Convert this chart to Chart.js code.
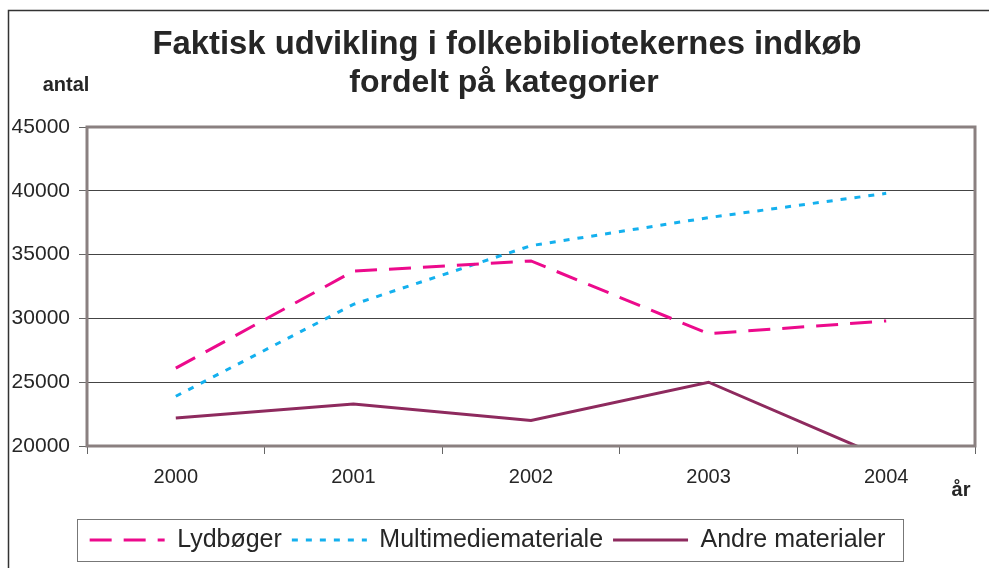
<!DOCTYPE html>
<html>
<head>
<meta charset="utf-8">
<script src="https://cdn.jsdelivr.net/npm/chart.js@4.4.1/dist/chart.umd.min.js"></script>
<style>
  html, body { margin: 0; padding: 0; background: #fff; }
  canvas { display: block; }
</style>
</head>
<body>
<canvas id="chart" width="989" height="568"></canvas>
<script>
const years = ['2000', '2001', '2002', '2003', '2004'];
const lydboger = [26100, 33700, 34500, 28800, 29800];
const multimedie = [23900, 31100, 35700, 37900, 39800];
const andre = [22200, 23300, 22000, 25000, 19000];
const titleLines = ['Faktisk udvikling i folkebibliotekernes indkøb', 'fordelt på kategorier'];

const FONT = "'Liberation Sans', Arial, sans-serif";
const TEXT = '#262626';

// frame, plot border, title, axis names and the legend box
const extras = {
  id: 'extras',
  beforeDraw(chart) {
    const c = chart.ctx;
    c.save();
    c.fillStyle = '#fff';
    c.fillRect(0, 0, chart.width, chart.height);
    c.strokeStyle = '#333';
    c.lineWidth = 1.5;
    c.beginPath();
    c.moveTo(8.5, chart.height);
    c.lineTo(8.5, 10.5);
    c.lineTo(chart.width, 10.5);
    c.stroke();
    c.restore();
  },
  afterDatasetsDraw(chart) {
    const c = chart.ctx;
    const a = chart.chartArea;
    c.save();
    c.strokeStyle = '#8a8080';
    c.lineWidth = 3;
    c.strokeRect(a.left, a.top, a.right - a.left, a.bottom - a.top);
    c.restore();
  },
  afterDraw(chart) {
    const c = chart.ctx;
    c.save();
    c.fillStyle = TEXT;
    c.textAlign = 'center';
    c.textBaseline = 'middle';
    c.font = 'bold 32.8px ' + FONT;
    c.fillText(titleLines[0], 507, 45);
    c.font = 'bold 32px ' + FONT;
    c.fillText(titleLines[1], 504, 83);
    c.font = 'bold 20px ' + FONT;
    c.fillText('antal', 66, 85);
    c.fillText('år', 961, 490);

    const boxes = chart.legend.legendHitBoxes;
    if (boxes && boxes.length) {
      const first = boxes[0];
      const last = boxes[boxes.length - 1];
      c.strokeStyle = '#777';
      c.lineWidth = 1;
      c.strokeRect(Math.round(first.left - 13) + 0.5, Math.round(first.top - 9) + 0.5,
        Math.round(last.left + last.width - first.left + 30), Math.round(first.height + 17));
    }
    c.restore();
  }
};

const ctx = document.getElementById('chart').getContext('2d');
const baseLabels = Chart.defaults.plugins.legend.labels.generateLabels;

new Chart(ctx, {
  type: 'line',
  data: {
    labels: years,
    datasets: [{
      label: 'Lydbøger',
      data: lydboger,
      borderColor: '#ec0a8c',
      backgroundColor: '#ec0a8c',
      borderWidth: 3,
      borderDash: [22, 12],
      pointRadius: 0,
      pointStyle: 'line',
      tension: 0
    }, {
      label: 'Multimediemateriale',
      data: multimedie,
      borderColor: '#14b0ee',
      backgroundColor: '#14b0ee',
      borderWidth: 3,
      borderDash: [6, 8],
      pointRadius: 0,
      pointStyle: 'line',
      tension: 0
    }, {
      label: 'Andre materialer',
      data: andre,
      borderColor: '#8e2a5e',
      backgroundColor: '#8e2a5e',
      borderWidth: 3,
      pointRadius: 0,
      pointStyle: 'line',
      tension: 0
    }]
  },
  options: {
    responsive: false,
    animation: false,
    layout: { padding: { top: 127, left: 0, right: 14, bottom: 5.5 } },
    plugins: {
      title: { display: false },
      tooltip: { enabled: false },
      legend: {
        position: 'bottom',
        labels: {
          usePointStyle: true,
          pointStyleWidth: 75,
          padding: 10,
          color: TEXT,
          font: { family: FONT, size: 25 },
          generateLabels: chart => baseLabels(chart).map((item, i) => {
            const ds = chart.data.datasets[i];
            item.lineDash = ds.borderDash || [];
            item.lineWidth = ds.borderWidth;
            item.strokeStyle = ds.borderColor;
            return item;
          })
        }
      }
    },
    scales: {
      x: {
        offset: true,
        afterFit: s => { s.height = 71.5; },
        border: { display: false },
        grid: { drawOnChartArea: false, drawTicks: true, tickLength: 8, color: '#666', offset: true },
        ticks: { color: TEXT, padding: 11, font: { family: FONT, size: 20 } }
      },
      y: {
        min: 20000,
        max: 45000,
        afterFit: s => { s.width = 87; },
        border: { display: false },
        grid: { color: '#444', lineWidth: 1, tickLength: 8, tickColor: '#666' },
        ticks: {
          stepSize: 5000,
          color: TEXT,
          padding: 9,
          font: { family: FONT, size: 21 },
          callback: v => String(v)
        }
      }
    }
  },
  plugins: [extras]
});
</script>
</body>
</html>
